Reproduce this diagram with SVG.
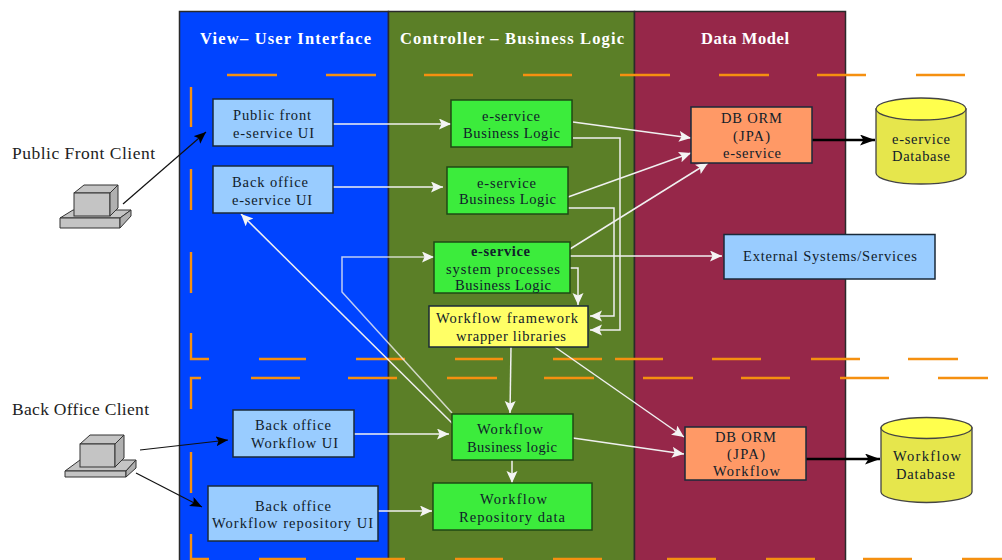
<svg xmlns="http://www.w3.org/2000/svg" width="1002" height="560" viewBox="0 0 1002 560">
<style>
text{font-family:"Liberation Serif","Times New Roman",serif;font-size:14.500px;fill:#10202a;text-anchor:start}
.title{font-size:16.500px;font-weight:bold;fill:#fff}
.client{font-size:17.500px;fill:#222}
.panel{stroke:#2a2a2a;stroke-width:1.5}
.frame{fill:none;stroke:#f59010;stroke-width:2.400}
.n{stroke:#1a2a3a;stroke-width:1.5}
.ui{fill:#99ccff}
.logic{fill:#3cec3c;stroke:#1f4a14}
.lib{fill:#ffff66}
.orm{fill:#ff9966}
.w{fill:none;stroke:#f0f0f0;stroke-width:1.500;marker-end:url(#wa)}
.k{fill:none;stroke:#111;stroke-width:1.200;marker-end:url(#ka)}
.kb{fill:none;stroke:#000;stroke-width:2.400;marker-end:url(#kb)}
.pc1{fill:#c4c4c4;stroke:#333;stroke-width:1}
.pc2{fill:#b0b0b0;stroke:#333;stroke-width:1}
.cs{fill:#e6e64c;stroke:#444;stroke-width:1.300}
.ct{fill:#ffff4d;stroke:#444;stroke-width:1.300}
</style>
<defs>
<marker id="wa" markerUnits="userSpaceOnUse" markerWidth="13" markerHeight="12" refX="12" refY="5.500" orient="auto"><path d="M0 0L12 5.500L0 11L2.500 5.500Z" fill="#f4f4f4"/></marker>
<marker id="ka" markerUnits="userSpaceOnUse" markerWidth="13" markerHeight="12" refX="12" refY="5" orient="auto"><path d="M0 0L12 5L0 10L2.500 5Z" fill="#000"/></marker>
<marker id="kb" markerUnits="userSpaceOnUse" markerWidth="16" markerHeight="12" refX="15" refY="5.500" orient="auto"><path d="M0 0L15 5.500L0 11L3.500 5.500Z" fill="#000"/></marker>
</defs>
<rect width="1002" height="560" fill="#fff"/>
<g id="panels">
<rect class="panel" x="179.500" y="11.500" width="209" height="560" fill="#0044ff"/>
<rect class="panel" x="388.500" y="11.500" width="246" height="560" fill="#5b7f27"/>
<rect class="panel" x="634.500" y="11.500" width="211" height="560" fill="#962749"/>
<text class="title" x="200" y="44" textLength="171">View– User Interface</text>
<text class="title" x="400" y="44" textLength="224">Controller – Business Logic</text>
<text class="title" x="701" y="44" textLength="88">Data Model</text>
</g>
<g id="frames">
<path class="frame" d="M227 75H277M326 75H376M424 75H473M523 75H572M620 75H670M719 75H769M817 75H866M916 75H965"/>
<path class="frame" d="M191 87V127M191 169V210M191 252V293M191 333V359H209M259 359H306M356 359H405M455 359H503M553 359H602M615 359H663M712 359H761M811 359H860M908 359H958"/>
<path class="frame" d="M201 378H191V409M191 452V493M191 534V559H209M259 559H306M356 559H405M455 559H503M553 559H602M667 559H716M766 559H815M863 559H912M962 559H1002"/>
<path class="frame" d="M251 378H300M348 378H397M447 378H497M544 378H594M643 378H693M741 378H790M840 378H889M938 378H988"/>
</g>
<g id="connectors">
<path class="w" d="M333 124H451"/>
<path class="w" d="M333 187H443"/>
<path class="w" d="M573 122L691 138"/>
<path class="w" d="M573 138H620V330H590"/>
<path class="w" d="M568 197L691 153"/>
<path class="w" d="M568 208H614V316H590"/>
<path class="w" d="M570 249L708 163"/>
<path class="w" d="M570 256H722"/>
<path class="w" d="M570 268H578V305"/>
<path class="w" stroke-opacity="0.800" d="M452 413L342 292V257H434"/>
<path class="w" d="M453 424L241 214"/>
<path class="w" d="M511 347L510 413"/>
<path class="w" d="M555 347L684 437"/>
<path class="w" d="M354 434H449"/>
<path class="w" d="M573 438L684 454"/>
<path class="w" d="M512 460V483"/>
<path class="w" d="M378 511H432"/>
<path class="k" d="M123 204L206 132"/>
<path class="k" d="M140 450L228 440"/>
<path class="k" d="M136 473L202 507"/>
<path class="kb" d="M812 140H875"/>
<path class="kb" d="M806 459H880"/>
</g>
<g id="public-client">
<text class="client" x="12" y="159" textLength="143">Public Front Client</text>
<path class="pc1" d="M60 218L73 210H131L120 218Z"/><path class="pc1" d="M60 218H120V228H60Z"/><path class="pc2" d="M120 218L131 210V216L120 228Z"/>
<path class="pc1" d="M74 193L84 185H118L110 193Z"/><rect class="pc1" x="74" y="193" width="36" height="23"/><path class="pc2" d="M110 193L118 185V208L110 216Z"/>
</g>
<g id="back-client">
<text class="client" x="12" y="415" textLength="137">Back Office Client</text>
<path class="pc1" d="M65 471L80 460H136L126 471Z"/><path class="pc1" d="M65 471H126V477H65Z"/><path class="pc2" d="M126 471L136 460V468L126 477Z"/>
<path class="pc1" d="M80 444L90 435H124L115 444Z"/><rect class="pc1" x="80" y="444" width="35" height="23"/><path class="pc2" d="M115 444L124 435V458L115 467Z"/>
</g>
<g id="ui-public">
<rect class="n ui" x="213" y="99" width="120" height="47"/>
<text x="233" y="120" textLength="78">Public front</text><text x="233" y="138" textLength="81">e-service UI</text>
</g>
<g id="ui-back">
<rect class="n ui" x="213" y="166" width="120" height="47"/>
<text x="232" y="187" textLength="76">Back office</text><text x="232" y="205" textLength="80">e-service UI</text>
</g>
<g id="ui-workflow">
<rect class="n ui" x="233" y="410" width="121" height="47"/>
<text x="255" y="430" textLength="76">Back office</text><text x="251" y="448" textLength="87">Workflow UI</text>
</g>
<g id="ui-repo">
<rect class="n ui" x="208" y="486" width="170" height="55"/>
<text x="255" y="511" textLength="76">Back office</text><text x="212" y="528" textLength="161">Workflow repository UI</text>
</g>
<g id="bl-1">
<rect class="n logic" x="451" y="100" width="121" height="47"/>
<text x="482" y="121" textLength="58">e-service</text><text x="463" y="138" textLength="97">Business Logic</text>
</g>
<g id="bl-2">
<rect class="n logic" x="447" y="167" width="121" height="47"/>
<text x="477" y="188" textLength="59">e-service</text><text x="459" y="204" textLength="97">Business Logic</text>
</g>
<g id="bl-system">
<rect class="n logic" x="434" y="242" width="136" height="51"/>
<text x="471" y="256" textLength="59" font-weight="bold">e-service</text><text x="446" y="274" textLength="114">system processes</text><text x="455" y="290" textLength="96">Business Logic</text>
</g>
<g id="wf-framework">
<rect class="n lib" x="429" y="306" width="159" height="41"/>
<text x="436" y="323" textLength="142">Workflow framework</text><text x="456" y="341" textLength="110">wrapper libraries</text>
</g>
<g id="wf-logic">
<rect class="n logic" x="452" y="414" width="121" height="46"/>
<text x="477" y="434" textLength="66">Workflow</text><text x="467" y="452" textLength="90">Business logic</text>
</g>
<g id="wf-repo">
<rect class="n logic" x="433" y="483" width="159" height="47"/>
<text x="480" y="504" textLength="67">Workflow</text><text x="459" y="522" textLength="106">Repository data</text>
</g>
<g id="orm-eservice">
<rect class="n orm" x="691" y="107" width="121" height="56"/>
<text x="721" y="123" textLength="61">DB ORM</text><text x="733" y="141" textLength="37">(JPA)</text><text x="723" y="158" textLength="58">e-service</text>
</g>
<g id="orm-workflow">
<rect class="n orm" x="685" y="427" width="121" height="53"/>
<text x="715" y="442" textLength="61">DB ORM</text><text x="727" y="459" textLength="38">(JPA)</text><text x="713" y="476" textLength="67">Workflow</text>
</g>
<g id="external">
<rect class="n ui" x="724" y="234.500" width="211" height="44.500"/>
<text x="743" y="261" textLength="174">External Systems/Services</text>
</g>
<g id="db-eservice">
<path class="cs" d="M876 109V173A45 11 0 0 0 966 173V109Z"/>
<ellipse class="ct" cx="921" cy="109" rx="45" ry="11"/>
<text x="892" y="144" textLength="58">e-service</text><text x="892" y="161" textLength="58">Database</text>
</g>
<g id="db-workflow">
<path class="cs" d="M881 428V492A45.500 10.500 0 0 0 972 492V428Z"/>
<ellipse class="ct" cx="926.500" cy="428" rx="45.500" ry="10.500"/>
<text x="893" y="461" textLength="68">Workflow</text><text x="896" y="479" textLength="59">Database</text>
</g>
</svg>
